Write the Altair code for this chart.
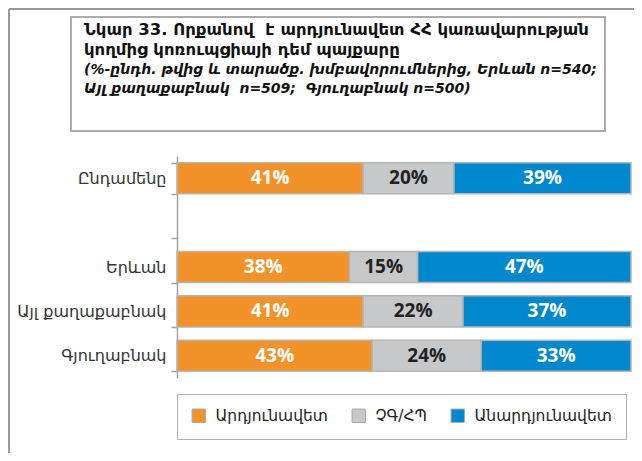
import altair as alt
import pandas as pd

categories = ["Ընդամենը", "Երևան", "Այլ քաղաքաբնակ", "Գյուղաբնակ"]
y_domain = ["Ընդամենը", " ", "Երևան", "Այլ քաղաքաբնակ", "Գյուղաբնակ"]
responses = ["Արդյունավետ", "ՉԳ/ՀՊ", "Անարդյունավետ"]
effective = [41, 38, 41, 43]
dont_know = [20, 15, 22, 24]
ineffective = [39, 47, 37, 33]
colors = ["#F39229", "#C7C8CA", "#0088CE"]

title_lines = [
    "Նկար 33. Որքանով\u00a0 է արդյունավետ ՀՀ կառավարության",
    "կողմից կոռուպցիայի դեմ պայքարը",
]
subtitle_lines = [
    "(%-ընդհ. թվից և տարածք. խմբավորումներից, Երևան n=540;",
    "Այլ քաղաքաբնակ\u00a0 n=509;\u00a0 Գյուղաբնակ n=500)",
]

rows = []
for i, c in enumerate(categories):
    for j, (r, v) in enumerate(zip(responses, [effective[i], dont_know[i], ineffective[i]])):
        rows.append({"category": c, "response": r, "value": v, "order": j})
df = pd.DataFrame(rows)

W, H = 454, 222
PL, PT = 169, 148
TOTAL_W, TOTAL_H = 626, 445

ARM = "DejaVu Sans"

base = alt.Chart(df).transform_stack(
    stack="value", groupby=["category"], as_=["x0", "x1"], sort=[alt.SortField("order")]
).transform_calculate(
    mid="(datum.x0 + datum.x1) / 2", label="datum.value + '%'"
)

yenc = alt.Y(
    "category:N",
    sort=y_domain,
    scale=alt.Scale(domain=y_domain, paddingInner=0.3, paddingOuter=0.15),
    axis=alt.Axis(
        title=None,
        domainColor="#A0A0A0",
        domainWidth=1.5,
        tickColor="#A0A0A0",
        tickWidth=1.5,
        tickSize=6,
        tickBand="extent",
        labelFont=ARM,
        labelFontSize=16,
        labelColor="#333333",
        labelPadding=5,
    ),
)

xscale = alt.Scale(domain=[0, 100], nice=False)

bars = base.mark_bar(stroke="#B5B5B5", strokeWidth=1.5).encode(
    x=alt.X("x0:Q", scale=xscale, axis=None),
    x2="x1:Q",
    y=yenc,
    color=alt.Color(
        "response:N",
        sort=responses,
        scale=alt.Scale(domain=responses, range=colors),
        legend=alt.Legend(
            title=None,
            orient="none",
            legendX=0,
            legendY=238,
            direction="horizontal",
            columns=3,
            gridAlign="none",
            symbolType="square",
            symbolSize=180,
            symbolStrokeColor="#AAAAAA",
            symbolStrokeWidth=1,
            labelFont=ARM,
            labelFontSize=15.5,
            labelColor="#222222",
            labelOffset=9,
            columnPadding=22,
            padding=14,
            strokeColor="#B0B0B0",
        ),
    ),
)

texts = base.mark_text(font="Open Sans", fontWeight="bold", fontSize=19, baseline="middle").encode(
    x=alt.X("mid:Q", scale=xscale),
    y=alt.Y("category:N", sort=y_domain),
    text="label:N",
    color=alt.condition(
        alt.datum.response == "ՉԳ/ՀՊ", alt.value("#222222"), alt.value("#FFFFFF")
    ),
)

one = pd.DataFrame({"a": [0]})

frame_v = alt.Chart(one).mark_rule(color="#999999", strokeWidth=2).encode(
    x=alt.value(-168), y=alt.value(-147), y2=alt.value(TOTAL_H - PT)
)
frame_h = alt.Chart(one).mark_rule(color="#999999", strokeWidth=2).encode(
    y=alt.value(-147), x=alt.value(-168), x2=alt.value(TOTAL_W - PL)
)
title_box = alt.Chart(one).mark_rect(fillOpacity=0, stroke="#ABABAB", strokeWidth=2).encode(
    x=alt.value(-106), x2=alt.value(428), y=alt.value(-139), y2=alt.value(-25)
)

title_layers = []
ys = [-121, -101, -82, -63]
for k, line in enumerate(title_lines + subtitle_lines):
    italic = k >= 2
    title_layers.append(
        alt.Chart(pd.DataFrame({"t": [line]})).mark_text(
            align="left",
            baseline="alphabetic",
            font=ARM,
            fontWeight="bold",
            fontStyle="italic" if italic else "normal",
            fontSize=14 if italic else 16.5,
            color="#111111",
        ).encode(x=alt.value(-93), y=alt.value(ys[k]), text="t:N")
    )

chart = alt.layer(
    frame_v, frame_h, title_box, *title_layers, bars, texts
).properties(
    width=W,
    height=H,
    padding={"left": PL, "top": PT, "right": TOTAL_W - PL - W, "bottom": TOTAL_H - PT - H},
    autosize=alt.AutoSizeParams(type="none"),
).configure_view(stroke=None)

chart.save("out.html", embed_options={"renderer": "svg", "actions": False})
